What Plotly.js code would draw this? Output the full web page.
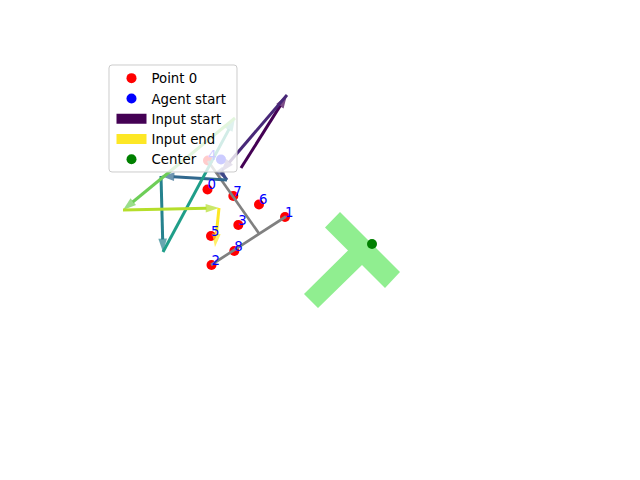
<!DOCTYPE html>
<html>
<head>
<meta charset="utf-8">
<script src="https://cdn.plot.ly/plotly-3.0.1.min.js"></script>
<style>html,body{margin:0;padding:0;background:#fff;}#chart{width:640px;height:480px;}</style>
</head>
<body>
<div id="chart"></div>
<script>
// Numbered points (red) and their labels
const ptX = [207.5, 285, 211.5, 238.3, 208, 211, 259, 233.3, 234.3];
const ptY = [189.5, 217, 265, 225, 160.5, 236, 204.5, 196, 251];
const ptLabels = ['0', '1', '2', '3', '4', '5', '6', '7', '8'];
// Agent start
const agentX = [221];
const agentY = [159.5];
// Center of the T target
const centerX = [372];
const centerY = [244];
// Input path (consecutive positions, one arrow between each pair)
const pathX = [241, 287, 221, 227, 161, 163, 235, 123, 219, 215];
const pathY = [168, 95, 172, 180, 176, 252, 118, 210, 208, 247];
// Gray T (agent body)
const barX = [211, 286];
const barY = [265, 216.5];
const stemX = [208, 259];
const stemY = [161, 233.5];
// Green T target outline
const tX = [340, 400, 385, 362, 318, 304, 348, 325];
const tY = [212, 272, 288, 265, 308, 294, 250.5, 227.5];
// Legend names
const legendNames = ['Point 0', 'Agent start', 'Input start', 'Input end', 'Center'];

// arrow colours (viridis steps, start -> end)
const arrowColors = ['#440154', '#482878', '#3e4989', '#31688e', '#26828e', '#1f9e89', '#6ece58', '#b5de2b', '#fde725'];
const FONT = 'DejaVu Sans, sans-serif';

const traces = [];
// T target
traces.push({
  x: tX, y: tY, type: 'scatter', mode: 'lines', fill: 'toself',
  fillcolor: '#90ee90', line: {width: 0, color: '#90ee90'},
  showlegend: false, hoverinfo: 'skip'
});
// red points
traces.push({
  x: ptX, y: ptY, type: 'scatter', mode: 'markers', name: legendNames[0],
  marker: {color: '#ff0000', size: 10}, legendrank: 1
});
// agent start
traces.push({
  x: agentX, y: agentY, type: 'scatter', mode: 'markers', name: legendNames[1],
  marker: {color: '#0000ff', size: 10}, legendrank: 2
});
// center
traces.push({
  x: centerX, y: centerY, type: 'scatter', mode: 'markers', name: legendNames[4],
  marker: {color: '#008000', size: 10}, legendrank: 5
});
// gray T
[[barX, barY], [stemX, stemY]].forEach(function (seg) {
  traces.push({
    x: seg[0], y: seg[1], type: 'scatter', mode: 'lines',
    line: {color: '#808080', width: 2.7}, showlegend: false, hoverinfo: 'skip'
  });
});
// arrows
for (let i = 0; i < pathX.length - 1; i++) {
  const col = arrowColors[i];
  traces.push({
    x: [pathX[i], pathX[i + 1]], y: [pathY[i], pathY[i + 1]],
    type: 'scatter', mode: 'lines+markers',
    line: {color: col, width: 3},
    marker: {symbol: 'arrow', angleref: 'previous', size: [0, 14], color: col, line: {width: 0}},
    showlegend: false, hoverinfo: 'skip'
  });
}
// legend-only entries for input start / end
traces.push({
  x: [null], y: [null], type: 'scatter', mode: 'lines', name: legendNames[2],
  line: {color: arrowColors[0], width: 10}, legendrank: 3
});
traces.push({
  x: [null], y: [null], type: 'scatter', mode: 'lines', name: legendNames[3],
  line: {color: arrowColors[arrowColors.length - 1], width: 10}, legendrank: 4
});
// labels
traces.push({
  x: ptX, y: ptY, yaxis: 'y2', type: 'scatter', mode: 'text', text: ptLabels,
  textposition: 'top right', textfont: {color: '#0000ff', size: 13.3, family: FONT},
  showlegend: false, hoverinfo: 'skip'
});

const layout = {
  width: 640, height: 480,
  margin: {l: 0, r: 0, t: 0, b: 0, pad: 0},
  paper_bgcolor: '#ffffff', plot_bgcolor: '#ffffff',
  xaxis: {range: [0, 640], visible: false, fixedrange: true},
  yaxis: {range: [480, 0], visible: false, fixedrange: true},
  yaxis2: {range: [476.7, -3.3], visible: false, overlaying: 'y', fixedrange: true},
  showlegend: true,
  // legend frame (semi-transparent white box, drawn above the data)
  shapes: [{
    type: 'path', xref: 'paper', yref: 'paper', layer: 'above',
    path: 'M 0.1750,0.8646 L 0.3656,0.8646 Q 0.3703,0.8646 0.3703,0.8583 L 0.3703,0.6479 Q 0.3703,0.6417 0.3656,0.6417 L 0.1750,0.6417 Q 0.1703,0.6417 0.1703,0.6479 L 0.1703,0.8583 Q 0.1703,0.8646 0.1750,0.8646 Z',
    fillcolor: 'rgba(255,255,255,0.8)', line: {color: '#cccccc', width: 1}
  }],
  legend: {
    x: 111.5 / 640, y: 1 - 63 / 480, xanchor: 'left', yanchor: 'top',
    bgcolor: 'rgba(0,0,0,0)', borderwidth: 0,
    font: {family: FONT, size: 13.3, color: '#000000'},
    traceorder: 'normal'
  },
  font: {family: FONT}
};

Plotly.newPlot('chart', traces, layout, {staticPlot: true, displayModeBar: false});
</script>
</body>
</html>
